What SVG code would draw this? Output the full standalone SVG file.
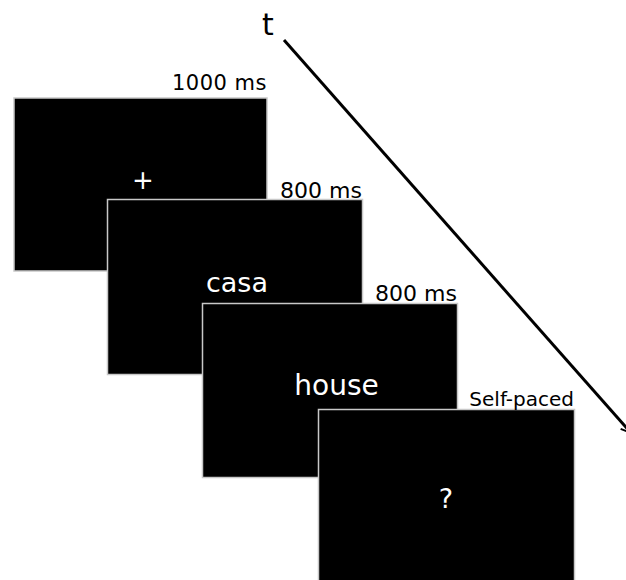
<svg xmlns="http://www.w3.org/2000/svg" width="626" height="580" viewBox="0 0 626 580">
<style>
.scr{fill:#000;stroke:#c8c8c8;stroke-width:1.5}
.lbl{font-family:"DejaVu Sans",Verdana,sans-serif;font-size:22px;fill:#000;text-anchor:end}
.stim{font-family:"DejaVu Sans",Verdana,sans-serif;fill:#fff;text-anchor:middle}
</style>
<defs>
<marker id="arr" viewBox="0 0 12 12" refX="11" refY="6" markerWidth="12" markerHeight="12" orient="auto" markerUnits="userSpaceOnUse">
<path d="M1,1 L11,6 L1,11" fill="none" stroke="#000" stroke-width="2"/>
</marker>
</defs>
<rect width="626" height="580" fill="#fff"/>
<g id="connectors">
<line x1="284" y1="40" x2="631" y2="433" stroke="#000" stroke-width="3" marker-end="url(#arr)"/>
<text x="268" y="35" font-family="DejaVu Sans,Verdana,sans-serif" font-size="30" text-anchor="middle" fill="#000">t</text>
</g>
<g id="screen1">
<rect class="scr" x="14" y="98" width="253" height="173"/>
<text class="lbl" x="267" y="90" style="font-size:21px;letter-spacing:0.5px">1000 ms</text>
<text class="stim" x="143" y="189" style="font-size:26px">+</text>
</g>
<g id="screen2">
<rect class="scr" x="107.5" y="199.5" width="255" height="175"/>
<text class="lbl" x="362" y="198">800 ms</text>
<text class="stim" x="237" y="292" style="font-size:27px">casa</text>
</g>
<g id="screen3">
<rect class="scr" x="202.5" y="303.5" width="255" height="174"/>
<text class="lbl" x="457" y="301">800 ms</text>
<text class="stim" x="336.5" y="395" style="font-size:28px">house</text>
</g>
<g id="screen4">
<rect class="scr" x="318.5" y="409.5" width="256" height="175"/>
<text class="lbl" x="574" y="406" style="font-size:20px">Self-paced</text>
<text class="stim" x="446" y="508" style="font-size:27px">?</text>
</g>
</svg>
